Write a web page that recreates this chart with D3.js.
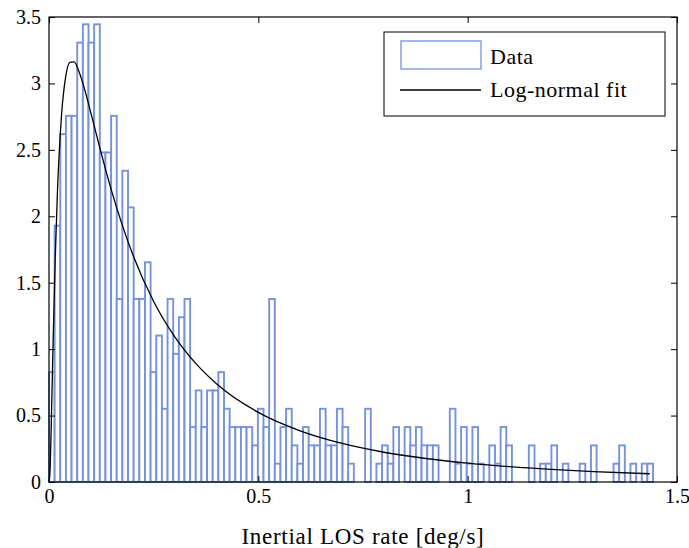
<!DOCTYPE html>
<html>
<head>
<meta charset="utf-8">
<script src="https://cdn.jsdelivr.net/npm/d3@7"></script>
<style>
  body { margin: 0; background: #fff; }
  svg text { font-family: "Liberation Serif", "DejaVu Serif", serif; fill: #000; }
  .axis path { display: none; }
  .axis line { stroke: #000; stroke-width: 1; }
</style>
</head>
<body>
<div id="chart"></div>
<script>
// histogram: counts per bin (bin width binWidth, starting at 0), shown as density
const binWidth = 0.013484;
const densityPerCount = 0.1378;
const counts = [6, 14, 19, 20, 20, 24, 25, 24, 25, 18, 18, 20, 10, 17, 15, 10, 10, 12, 6, 8,
  4, 10, 7, 9, 10, 3, 5, 3, 5, 5, 6, 4, 3, 3, 3, 3, 2, 4, 3, 10,
  1, 3, 4, 2, 1, 3, 2, 2, 4, 2, 2, 4, 3, 1, 0, 0, 4, 0, 1, 2,
  1, 3, 0, 3, 2, 3, 2, 2, 2, 0, 0, 4, 1, 3, 1, 3, 1, 0, 2, 1,
  3, 2, 0, 0, 0, 2, 0, 1, 1, 2, 0, 1, 0, 0, 1, 0, 2, 0, 0, 0,
  1, 2, 0, 1, 0, 1, 1];

// log-normal fit, points
const fitX = [0, 0.002, 0.005, 0.01, 0.015, 0.02, 0.03, 0.04, 0.05, 0.06, 0.07, 0.08, 0.1, 0.12, 0.15,
  0.2, 0.25, 0.3, 0.35, 0.4, 0.5, 0.6, 0.7, 0.8, 0.9, 1.0, 1.1, 1.2, 1.3, 1.435];
const fitY = [0, 0.054, 0.378, 1.081, 1.695, 2.17, 2.764, 3.053, 3.158, 3.162, 3.103, 3.01, 2.778, 2.532, 2.186,
  1.713, 1.359, 1.095, 0.895, 0.74, 0.524, 0.385, 0.29, 0.224, 0.177, 0.142, 0.115, 0.0946, 0.0787, 0.0622];

const xTicks = [0, 0.5, 1, 1.5];
const yTicks = [0, 0.5, 1, 1.5, 2, 2.5, 3, 3.5];

const config = {
  width: 689, height: 548,
  margin: {top: 17, right: 12, bottom: 66, left: 49}
};

const innerW = config.width - config.margin.left - config.margin.right;
const innerH = config.height - config.margin.top - config.margin.bottom;
const fmt = d3.format('~g');

const svg = d3.select('#chart').append('svg')
    .attr('width', config.width)
    .attr('height', config.height);

const chart = svg.append('g')
    .attr('transform', `translate(${config.margin.left},${config.margin.top})`);

const xScale = d3.scaleLinear().domain([0, 1.5]).range([0, innerW]);
const yScale = d3.scaleLinear().domain([0, 3.5]).range([innerH, 0]);

const bins = counts.map((c, i) => ({x0: i * binWidth, x1: (i + 1) * binWidth, y: c * densityPerCount}));

chart.selectAll('.bar')
    .data(bins.filter(d => d.y > 0))
    .join('rect')
    .attr('class', 'bar')
    .attr('x', d => xScale(d.x0))
    .attr('y', d => yScale(d.y))
    .attr('width', d => xScale(d.x1) - xScale(d.x0))
    .attr('height', d => innerH - yScale(d.y))
    .attr('fill', '#fff')
    .attr('stroke', '#7592da')
    .attr('stroke-width', 1.9);

const line = d3.line()
    .x((d, i) => xScale(fitX[i]))
    .y(d => yScale(d))
    .curve(d3.curveMonotoneX);

chart.append('path')
    .datum(fitY)
    .attr('d', line)
    .attr('fill', 'none')
    .attr('stroke', '#000')
    .attr('stroke-width', 1.3);

// axes with inward ticks on all four sides
chart.append('g').attr('class', 'axis')
    .attr('transform', `translate(0,${innerH})`)
    .call(d3.axisBottom(xScale).tickValues(xTicks).tickFormat(fmt).tickSize(-6).tickPadding(7).tickSizeOuter(0))
    .selectAll('text').style('font-size', '20px');

chart.append('g').attr('class', 'axis')
    .call(d3.axisTop(xScale).tickValues(xTicks).tickSize(-6).tickFormat('').tickSizeOuter(0));

chart.append('g').attr('class', 'axis')
    .call(d3.axisLeft(yScale).tickValues(yTicks).tickFormat(fmt).tickSize(-6).tickPadding(8).tickSizeOuter(0))
    .selectAll('text').style('font-size', '20px');

chart.append('g').attr('class', 'axis')
    .attr('transform', `translate(${innerW},0)`)
    .call(d3.axisRight(yScale).tickValues(yTicks).tickSize(-6).tickFormat('').tickSizeOuter(0));

chart.append('rect')
    .attr('width', innerW)
    .attr('height', innerH)
    .attr('fill', 'none')
    .attr('stroke', '#000')
    .attr('stroke-width', 1.2);

svg.append('text')
    .attr('x', config.margin.left + innerW / 2)
    .attr('y', 544)
    .attr('text-anchor', 'middle')
    .style('font-size', '23px')
    .style('letter-spacing', '0.7px')
    .text('Inertial LOS rate [deg/s]');

// legend
const legend = svg.append('g').attr('transform', 'translate(384,32)');
legend.append('rect')
    .attr('width', 281).attr('height', 84)
    .attr('fill', '#fff').attr('stroke', '#000').attr('stroke-width', 1);
legend.append('rect')
    .attr('x', 17).attr('y', 9).attr('width', 80).attr('height', 28)
    .attr('fill', '#fff').attr('stroke', '#7592da').attr('stroke-width', 1.3);
legend.append('text')
    .attr('x', 106).attr('y', 32)
    .style('font-size', '22px')
    .style('letter-spacing', '0.5px')
    .text('Data');
legend.append('line')
    .attr('x1', 16).attr('x2', 97).attr('y1', 58).attr('y2', 58)
    .attr('stroke', '#000').attr('stroke-width', 1.3);
legend.append('text')
    .attr('x', 106).attr('y', 65)
    .style('font-size', '22px')
    .style('letter-spacing', '0.5px')
    .text('Log-normal fit');
</script>
</body>
</html>
